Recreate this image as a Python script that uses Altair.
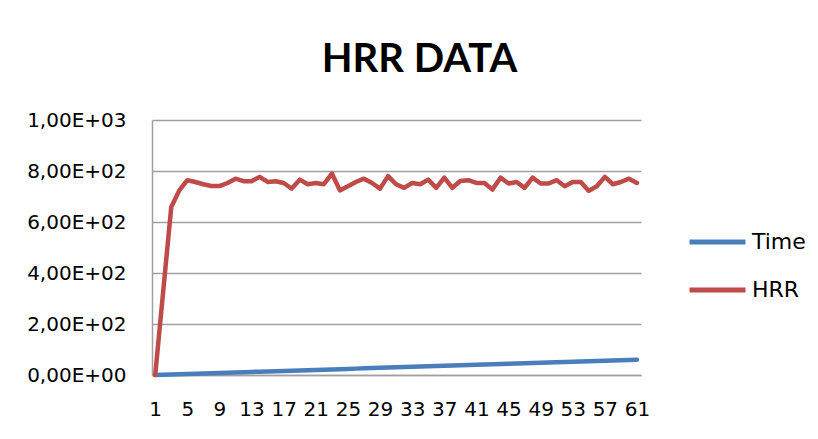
import altair as alt
import pandas as pd

x_index = list(range(1, 62))
time_values = [0, 1, 2, 3, 4, 5, 6, 7, 8, 9, 10, 11, 12, 13, 14, 15, 16, 17, 18, 19,
               20, 21, 22, 23, 24, 25, 26, 27, 28, 29, 30, 31, 32, 33, 34, 35, 36, 37,
               38, 39, 40, 41, 42, 43, 44, 45, 46, 47, 48, 49, 50, 51, 52, 53, 54, 55,
               56, 57, 58, 59, 60]
hrr_values = [0, 330, 659, 724, 764, 757, 748, 741, 741, 753,
              770, 760, 760, 777, 757, 760, 753, 731, 766, 748,
              753, 748, 790, 724, 740, 757, 770, 753, 731, 780,
              748, 734, 753, 748, 766, 734, 774, 734, 761, 764,
              753, 753, 727, 774, 751, 757, 734, 774, 751, 751,
              764, 740, 757, 757, 722, 740, 777, 748, 757, 770,
              753]
series_names = ["Time", "HRR"]
series_colors = ["#4A7EBB", "#BE4B48"]
x_tick_values = [1, 5, 9, 13, 17, 21, 25, 29, 33, 37, 41, 45, 49, 53, 57, 61]
y_tick_values = [0, 200, 400, 600, 800, 1000]

rows = []
for i, t in zip(x_index, time_values):
    rows.append({"x": i, "series": "Time", "value": t})
for i, h in zip(x_index, hrr_values):
    rows.append({"x": i, "series": "HRR", "value": h})
df = pd.DataFrame(rows)

y_label_expr = (
    "datum.value == 0 ? '0,00E+00' : "
    "replace(format(datum.value / pow(10, floor(log(datum.value) / LN10 + 1e-9)), '.2f'), '.', ',')"
    " + 'E+' + (floor(log(datum.value) / LN10 + 1e-9) < 10 ? '0' : '')"
    " + floor(log(datum.value) / LN10 + 1e-9)"
)

chart = alt.Chart(df).mark_line(
    strokeWidth=4.5, strokeJoin="round", strokeCap="round"
).encode(
    x=alt.X(
        "x:Q",
        scale=alt.Scale(domain=[0.6, 61.5], nice=False, zero=False),
        axis=alt.Axis(
            values=x_tick_values, title=None, grid=False, ticks=False,
            labelPadding=24, labelFont="DejaVu Sans", labelFontSize=20,
            labelColor="#000000", domainColor="#A0A0A0", domainWidth=1.5,
            labelFlush=False, labelOverlap=False,
        ),
    ),
    y=alt.Y(
        "value:Q",
        scale=alt.Scale(domain=[0, 1000], nice=False),
        axis=alt.Axis(
            values=y_tick_values, title=None, ticks=False, labelExpr=y_label_expr,
            labelPadding=26, labelFont="DejaVu Sans", labelFontSize=20,
            labelColor="#000000", domainColor="#A0A0A0", domainWidth=1.5,
            gridColor="#A0A0A0", gridWidth=1.5, labelFlush=False,
        ),
    ),
    color=alt.Color(
        "series:N",
        scale=alt.Scale(domain=series_names, range=series_colors),
        sort=series_names,
        legend=alt.Legend(
            title=None, orient="none", legendX=535, legendY=110,
            symbolType="stroke", symbolSize=3136, symbolStrokeWidth=5,
            labelFont="DejaVu Sans", labelFontSize=22, labelColor="#000000",
            labelOffset=4, clipHeight=24, rowPadding=24,
        ),
    ),
    order=alt.Order("x:Q"),
).properties(
    width=489,
    height=255,
    title=alt.Title(
        "HRR DATA", font="Lato", fontSize=40, fontWeight="bold", color="#000000",
        anchor="middle", frame="group", dx=23, baseline="alphabetic", offset=-2,
    ),
    autosize=alt.AutoSizeParams(type="none"),
    padding={"left": 144, "top": 112, "right": 169, "bottom": 56},
).configure_view(stroke=None)

chart.save("out.html", embed_options={"renderer": "svg", "actions": False})
